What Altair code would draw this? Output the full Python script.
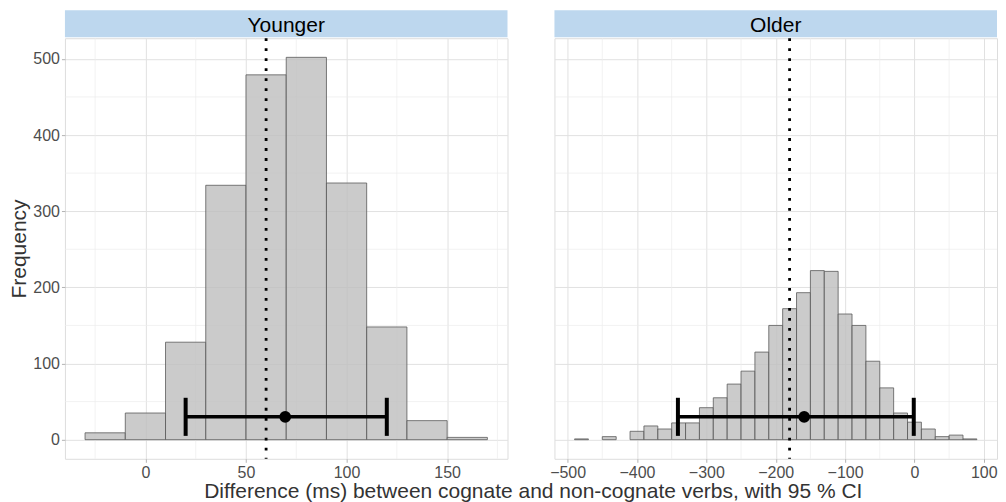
import altair as alt
import pandas as pd

# ---------------- data ----------------
bin_width = 20

young_bin_start = [-30, -10, 10, 30, 50, 70, 90, 110, 130, 150]
young_counts = [9, 35, 128, 334, 479, 502, 337, 148, 25, 3]

old_bin_start = [-490, -470, -450, -430, -410, -390, -370, -350, -330, -310,
                 -290, -270, -250, -230, -210, -190, -170, -150, -130, -110,
                 -90, -70, -50, -30, -10, 10, 30, 50, 70]
old_counts = [1, 0, 4, 0, 11, 18, 14, 22, 22, 42,
              55, 73, 90, 115, 150, 172, 193, 222, 221, 165,
              150, 103, 68, 35, 23, 14, 4, 6, 1]

# reference (dotted) line, estimate and 95% CI
young_ref, young_est, young_lo, young_hi = 60, 69.5, 20, 120
old_ref, old_est, old_lo, old_hi = -180, -159, -341, -1
ci_y = 30
cap_lo, cap_hi = 5, 55

panel_names = ["Younger", "Older"]
y_title = "Frequency"
x_title = "Difference (ms) between cognate and non-cognate verbs, with 95 % CI"

y_major = [0, 100, 200, 300, 400, 500]
y_minor = [50, 150, 250, 350, 450]
young_x_major = [0, 50, 100, 150]
young_x_minor = [-25, 25, 75, 125, 175]
old_x_major = [-500, -400, -300, -200, -100, 0, 100]
old_x_minor = [-450, -350, -250, -150, -50, 50]

# ---------------- style ----------------
FONT = "Liberation Sans"
W, H = 443, 421
SPACING = 47
Y_DOMAIN = [-25.1, 527.1]
GRID_MAJOR = "#E1E1E1"
GRID_MINOR = "#ECECEC"
STRIP_FILL = "#BDD7EE"


def panel(name, starts, counts, ref, est, lo, hi, x_domain, x_major, x_minor, first):
    xs = alt.Scale(domain=x_domain, nice=False, zero=False)
    ys = alt.Scale(domain=Y_DOMAIN, nice=False, zero=False)
    xaxis = alt.Axis(values=x_major, title=None, grid=True, gridColor=GRID_MAJOR,
                     gridWidth=1, domain=False, tickColor="#B3B3B3", tickSize=3.5,
                     labelFontSize=16, labelColor="#4D4D4D", labelPadding=2,
                     labelFont=FONT, labelFlush=False)
    if first:
        yaxis = alt.Axis(values=y_major, title=y_title, grid=True, gridColor=GRID_MAJOR,
                         gridWidth=1, domain=False, tickColor="#B3B3B3", tickSize=3.5,
                         labelFontSize=16, labelColor="#4D4D4D", labelPadding=2,
                         labelFont=FONT, titleFont=FONT, titleFontSize=21,
                         titleFontWeight="normal", titleColor="#333333",
                         titlePadding=3)
    else:
        yaxis = alt.Axis(values=y_major, title=None, grid=True, gridColor=GRID_MAJOR,
                         gridWidth=1, domain=False, ticks=False, labels=False)

    def X(field):
        return alt.X(field, type="quantitative", scale=xs, axis=xaxis)

    def Y(field):
        return alt.Y(field, type="quantitative", scale=ys, axis=yaxis)

    hist = pd.DataFrame({"start": starts, "count": counts})
    hist["end"] = hist["start"] + bin_width
    hist = hist[hist["count"] > 0]

    minor_x = alt.Chart(pd.DataFrame({"v": x_minor})).mark_rule(
        color=GRID_MINOR, strokeWidth=0.7).encode(x=X("v"))
    minor_y = alt.Chart(pd.DataFrame({"v": y_minor})).mark_rule(
        color=GRID_MINOR, strokeWidth=0.7).encode(y=Y("v"))

    bars = alt.Chart(hist).mark_rect(
        fill="#BEBEBE", fillOpacity=0.8, stroke="#5A5A5A", strokeWidth=0.8
    ).encode(x=X("start"), x2="end", y=Y("count"), y2=alt.datum(0))

    refline = alt.Chart(pd.DataFrame({"v": [ref]})).mark_rule(
        color="black", strokeWidth=2.8, strokeDash=[2.8, 7.2]).encode(x=X("v"))

    ci = pd.DataFrame({"lo": [lo], "hi": [hi], "y": [ci_y], "est": [est]})
    ci_line = alt.Chart(ci).mark_rule(color="black", strokeWidth=3.5).encode(
        x=X("lo"), x2="hi", y=Y("y"))
    caps = alt.Chart(pd.DataFrame({"x": [lo, hi], "a": [cap_lo, cap_lo], "b": [cap_hi, cap_hi]})
                     ).mark_rule(color="black", strokeWidth=4).encode(
        x=X("x"), y=Y("a"), y2="b")
    point = alt.Chart(ci).mark_circle(color="black", opacity=1, size=140).encode(
        x=X("est"), y=Y("y"))

    lab = pd.DataFrame({"label": [name]})
    strip = alt.Chart(lab).mark_rect(fill=STRIP_FILL).encode(
        x=alt.value(0), x2=alt.value(W), y=alt.value(-28), y2=alt.value(-1))
    strip_txt = alt.Chart(lab).mark_text(
        font=FONT, fontSize=21, color="black", baseline="middle", align="center"
    ).encode(x=alt.value(W / 2), y=alt.value(-12), text="label:N")

    layers = [minor_x, minor_y, bars, refline, ci_line, caps, point, strip, strip_txt]
    if first:
        xt = alt.Chart(pd.DataFrame({"t": [x_title]})).mark_text(
            font=FONT, fontSize=21, color="#333333", baseline="middle", align="center"
        ).encode(x=alt.value(468.8), y=alt.value(454), text="t:N")
        layers.append(xt)
    return alt.layer(*layers).properties(width=W, height=H)


left = panel(panel_names[0], young_bin_start, young_counts, young_ref, young_est,
             young_lo, young_hi, [-40, 180], young_x_major, young_x_minor, True)
right = panel(panel_names[1], old_bin_start, old_counts, old_ref, old_est,
              old_lo, old_hi, [-519, 119], old_x_major, old_x_minor, False)

chart = alt.hconcat(left, right, spacing=SPACING, bounds="flush").properties(
    padding={"left": 0, "top": 1, "right": 0, "bottom": 0}
).configure_view(stroke="#B3B3B3", strokeWidth=1).configure(background="white")

chart.save("out.html", embed_options={"renderer": "svg", "actions": False})
